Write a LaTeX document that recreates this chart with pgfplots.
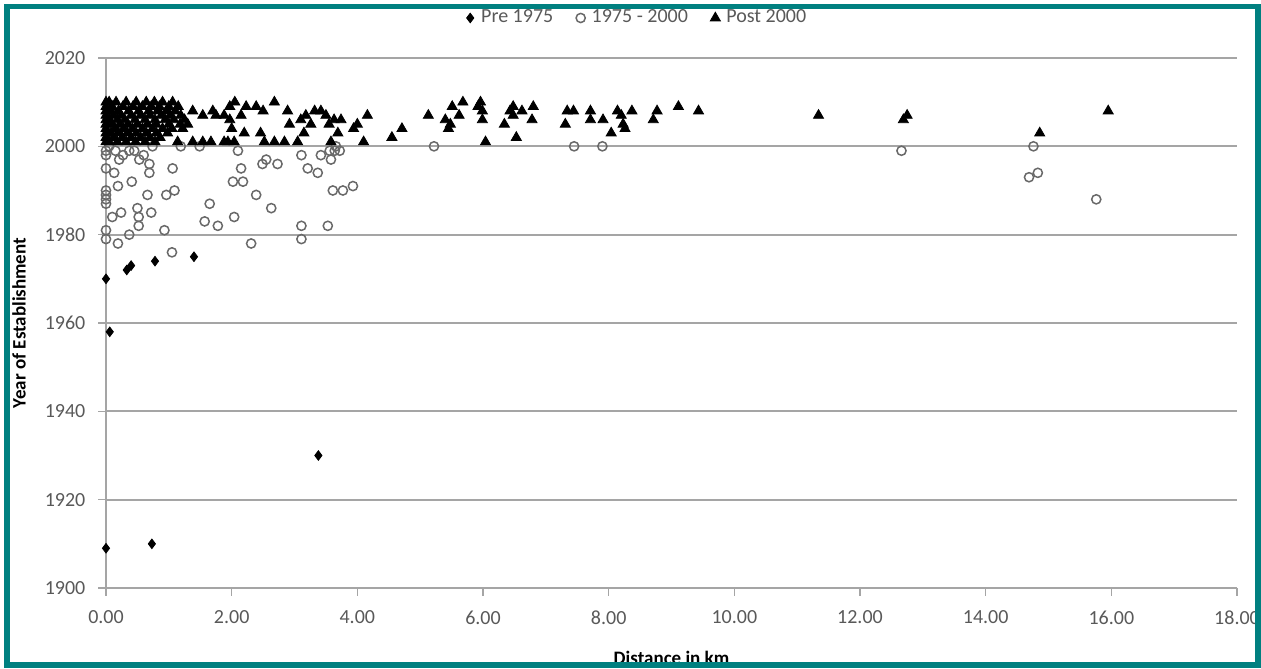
\documentclass[border=0pt]{standalone}
\usepackage{pgfplots}
\pgfplotsset{compat=1.18}
\usepackage{fontspec}
\setmainfont{Carlito}
\definecolor{frameteal}{RGB}{0,128,128}
\definecolor{gridgray}{RGB}{165,165,165}
\definecolor{labgray}{RGB}{89,89,89}
\definecolor{circgray}{RGB}{105,105,105}

\begin{document}
\begin{tikzpicture}
\useasboundingbox (0,0) rectangle (630.5pt,334pt);
\begin{axis}[
  at={(53pt,40pt)}, anchor=south west,
  scale only axis, width=565.5pt, height=265pt,
  xmin=0, xmax=18, ymin=1900, ymax=2020,
  xtick={0,2,...,18}, ytick={1900,1920,...,2020},
  axis x line*=bottom, axis y line*=left,
  axis line style={gridgray, line width=0.9pt, -},
  ymajorgrids, major grid style={gridgray, line width=0.9pt},
  tick align=outside, major tick length=3.8pt,
  tick style={gridgray, line width=0.8pt},
  clip=false,
  /pgf/number format/assume math mode=true,
  /pgf/number format/1000 sep={},
  ticklabel style={font=\fontsize{10}{12}\selectfont, text=labgray},
  xticklabel style={yshift=-4pt, /pgf/number format/fixed, /pgf/number format/fixed zerofill, /pgf/number format/precision=2},
  yticklabel style={xshift=-3pt},
  xlabel={Distance in km},
  xlabel style={font=\bfseries\fontsize{9.5}{11}\selectfont, at={(axis description cs:0.5,-0.1434)}, anchor=base},
  ylabel={Year of Establishment},
  ylabel style={font=\bfseries\fontsize{9.5}{11}\selectfont, at={(axis description cs:-0.0769,0.5)}, anchor=center},
  legend style={at={(axis description cs:0.4695,1)}, anchor=center, yshift=20pt,
    draw=none, fill=none, font=\fontsize{10}{12}\selectfont, text=labgray,
    /tikz/every even column/.append style={column sep=8.5pt}},
  legend columns=-1,
  legend image code/.code={\draw[mark repeat=2,mark phase=2,#1] plot coordinates {(0pt,0pt) (3pt,0pt) (6pt,0pt)};
    \path (0pt,0pt) (6.3pt,0pt);},
]

% Pre 1975
\addplot[only marks, mark=diamond*, mark size=2.4pt, black] coordinates {
  (0.00,1970) (0.06,1958) (0.33,1972) (0.40,1973) (0.78,1974) (1.40,1975)
  (3.38,1930) (0.00,1909) (0.73,1910)
};
\addlegendentry{Pre 1975}

% 1975 - 2000
\addplot[only marks, mark=o, mark size=2.3pt, circgray, mark options={line width=0.75pt}] coordinates {
  (0.00,1999) (0.00,1998) (0.00,1995) (0.00,1990) (0.00,1989) (0.00,1988) (0.00,1987) (0.00,1981) (0.00,1979)
  (0.05,2000) (0.13,1994) (0.19,1991) (0.21,1997) (0.10,1984) (0.24,1985) (0.19,1978) (0.37,1980)
  (0.41,1992) (0.50,1986) (0.52,1984) (0.52,1982) (0.53,1997) (0.37,1999) (0.15,1999) (0.27,1998)
  (0.45,1999) (0.60,1998) (0.66,1989) (0.69,1994) (0.72,1985) (0.74,2000) (0.69,1996) (0.93,1981)
  (0.96,1989) (1.06,1995) (1.09,1990) (1.05,1976) (1.19,2000) (1.49,2000) (1.65,1987) (1.57,1983)
  (1.78,1982)
  (2.10,1999) (2.15,1995) (2.02,1992) (2.18,1992) (2.39,1989) (2.63,1986) (2.04,1984) (2.31,1978)
  (2.55,1997) (2.49,1996) (2.73,1996) (3.11,1998) (3.21,1995) (3.37,1994) (3.42,1998) (3.58,1997)
  (3.56,1999) (3.64,1999) (3.72,1999) (3.61,1990) (3.77,1990) (3.93,1991) (3.11,1982) (3.11,1979)
  (3.53,1982) (3.66,2000)
  (5.22,2000) (7.45,2000) (7.90,2000) (12.66,1999) (14.76,2000) (14.83,1994) (14.69,1993) (15.76,1988)
};
\addlegendentry{1975 - 2000}

% Post 2000
\addplot[only marks, mark=triangle*, mark size=2.9pt, black] coordinates {
  (0.00,2010) (0.05,2010) (0.16,2010) (0.32,2010) (0.48,2010) (0.64,2010) (0.77,2010) (0.90,2010) (1.06,2010)
  (0.00,2009) (0.10,2009) (0.27,2009) (0.43,2009) (0.58,2009) (0.72,2009) (0.85,2009) (1.00,2009) (1.15,2009)
  (0.00,2008) (0.08,2008) (0.20,2008) (0.36,2008) (0.52,2008) (0.68,2008) (0.82,2008) (0.96,2008) (1.10,2008) (1.38,2008) (1.70,2008)
  (0.00,2007) (0.12,2007) (0.24,2007) (0.40,2007) (0.55,2007) (0.70,2007) (0.88,2007) (1.02,2007) (1.19,2007) (1.54,2007)
  (0.00,2006) (0.06,2006) (0.18,2006) (0.30,2006) (0.46,2006) (0.62,2006) (0.78,2006) (0.94,2006) (1.08,2006) (1.25,2006)
  (0.00,2005) (0.10,2005) (0.22,2005) (0.35,2005) (0.50,2005) (0.66,2005) (0.80,2005) (1.00,2005) (1.18,2005) (1.30,2005)
  (0.00,2004) (0.14,2004) (0.28,2004) (0.42,2004) (0.58,2004) (0.74,2004) (0.90,2004) (1.05,2004) (1.22,2004)
  (0.00,2003) (0.08,2003) (0.20,2003) (0.34,2003) (0.48,2003) (0.64,2003) (0.80,2003) (0.98,2003)
  (0.00,2002) (0.12,2002) (0.26,2002) (0.40,2002) (0.55,2002) (0.70,2002) (0.86,2002)
  (0.00,2001) (0.05,2001) (0.18,2001) (0.32,2001) (0.47,2001) (0.62,2001) (0.78,2001) (1.14,2001) (1.38,2001) (1.54,2001) (1.67,2001) (1.88,2001)
  (2.05,2010) (1.97,2009) (2.23,2009) (2.39,2009) (2.50,2008) (2.68,2010) (1.75,2007) (1.88,2007)
  (2.15,2007) (2.89,2008) (2.92,2005) (3.10,2006) (3.18,2007) (3.26,2005) (3.32,2008) (3.42,2008)
  (3.50,2007) (3.55,2005) (3.63,2006) (3.74,2006) (4.00,2005) (4.16,2007) (1.97,2006) (2.00,2004)
  (1.94,2001) (2.04,2001) (2.20,2003) (2.46,2003) (2.52,2001) (2.68,2001) (2.84,2001) (3.05,2001)
  (3.58,2001) (4.10,2001) (3.69,2003) (3.15,2003) (3.94,2004)
  (4.55,2002) (4.71,2004) (5.13,2007) (5.40,2006) (5.51,2009) (5.68,2010) (5.48,2005) (5.45,2004)
  (5.62,2007) (5.96,2010) (5.99,2008) (5.99,2006) (6.04,2001) (5.92,2009) (6.43,2008) (6.48,2009)
  (6.62,2008) (6.80,2009) (6.78,2006) (6.34,2005) (6.48,2007) (6.53,2002) (7.34,2008) (7.44,2008)
  (7.31,2005)
  (7.71,2008) (7.71,2006) (7.91,2006) (8.14,2008) (8.20,2007) (8.23,2005) (8.26,2004) (8.04,2003)
  (8.37,2008) (8.77,2008) (8.71,2006) (9.11,2009) (9.43,2008) (11.34,2007)
  (12.75,2007) (12.69,2006) (14.86,2003) (15.95,2008)
};
\addlegendentry{Post 2000}

\end{axis}
\draw[frameteal, line width=2.8pt] (3.5pt,1.5pt) rectangle (629pt,330.75pt);
\end{tikzpicture}
\end{document}
